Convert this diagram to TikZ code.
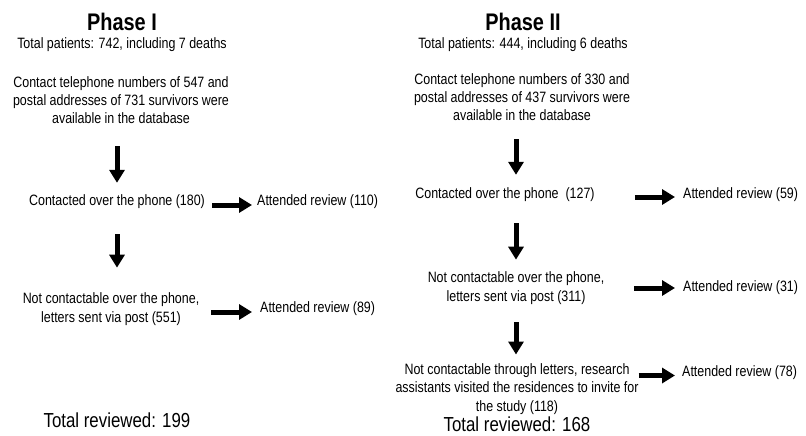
\documentclass[tikz,border=0pt]{standalone}
\usepackage{fontspec}
\setmainfont[FakeStretch=0.83]{Liberation Sans}
\usetikzlibrary{arrows.meta}
\begin{document}
\begin{tikzpicture}[x=1pt,y=-1pt,
  txt/.style={inner sep=0pt, align=center, font=\fontsize{15}{18.3}\selectfont},
  title/.style={inner sep=0pt, font=\fontsize{24}{28}\selectfont\bfseries},
  total/.style={inner sep=0pt, font=\fontsize{20.3}{24}\selectfont},
  bigarrow/.style={line width=5pt, -{Triangle[length=13pt,width=15pt]}}]
\useasboundingbox[fill=white] (0,0) rectangle (806,436);
% Phase I
\node[title] (p1) at (122,22) {Phase I};
\node[txt] (tp1) at (122,45) {Total patients: 742, including 7 deaths};
\node[txt] (ctx1) at (121,100) {Contact telephone numbers of 547 and\\postal addresses of 731 survivors were\\available in the database};
\node[txt] (ph1) at (117,202) {Contacted over the phone (180)};
\node[txt,anchor=west] (ar1) at (257,202) {Attended review (110)};
\node[txt] (np1) at (111,309) {Not contactable over the phone,\\letters sent via post (551)};
\node[txt,anchor=west] (ar2) at (260,309) {Attended review (89)};
\node[total] (tot1) at (117,420) {Total reviewed: 199};
\draw[bigarrow, shorten <=22pt, shorten >=12pt] (ctx1.south -| ph1.north) -- (ph1.north);
\draw[bigarrow, shorten <=25pt, shorten >=25pt] (ph1.south) -- (np1.north -| ph1.south);
\draw[bigarrow, shorten <=7pt, shorten >=5pt] ([yshift=-3pt]ph1.east) -- ([yshift=-3pt]ph1.east -| ar1.west);
\draw[bigarrow, shorten <=12pt, shorten >=8pt] ([yshift=-3pt]np1.east) -- ([yshift=-3pt]np1.east -| ar2.west);
% Phase II
\node[title] (p2) at (523,22) {Phase II};
\node[txt] (tp2) at (523,45) {Total patients: 444, including 6 deaths};
\node[txt] (ctx2) at (522,97) {Contact telephone numbers of 330 and\\postal addresses of 437 survivors were\\available in the database};
\node[txt] (ph2) at (505,195) {Contacted over the phone\ \ (127)};
\node[txt,anchor=west] (ar3) at (683,195) {Attended review (59)};
\node[txt] (np2) at (516,288) {Not contactable over the phone,\\letters sent via post (311)};
\node[txt,anchor=west] (ar4) at (683,288) {Attended review (31)};
\node[txt] (nl2) at (517,389) {Not contactable through letters, research\\assistants visited the residences to invite for\\the study (118)};
\node[txt,anchor=west] (ar5) at (682,373) {Attended review (78)};
\node[total] (tot2) at (517,424) {Total reviewed: 168};
\draw[bigarrow, shorten <=18pt, shorten >=13pt] (ctx2.south -| np2.north) -- (ph2.north -| np2.north);
\draw[bigarrow, shorten <=21pt, shorten >=12pt] (ph2.south -| np2.north) -- (np2.north);
\draw[bigarrow, shorten <=18pt, shorten >=9pt] (np2.south) -- (nl2.north -| np2.south);
\draw[bigarrow, shorten <=40pt, shorten >=8pt] ([yshift=-2pt]ph2.east) -- ([yshift=-2pt]ph2.east -| ar3.west);
\draw[bigarrow, shorten <=30pt, shorten >=8pt] (np2.east) -- (np2.east -| ar4.west);
\draw[bigarrow, shorten >=7pt] ([yshift=-12pt]nl2.north east) -- ([yshift=-12pt]nl2.north east -| ar5.west);
\end{tikzpicture}
\end{document}
